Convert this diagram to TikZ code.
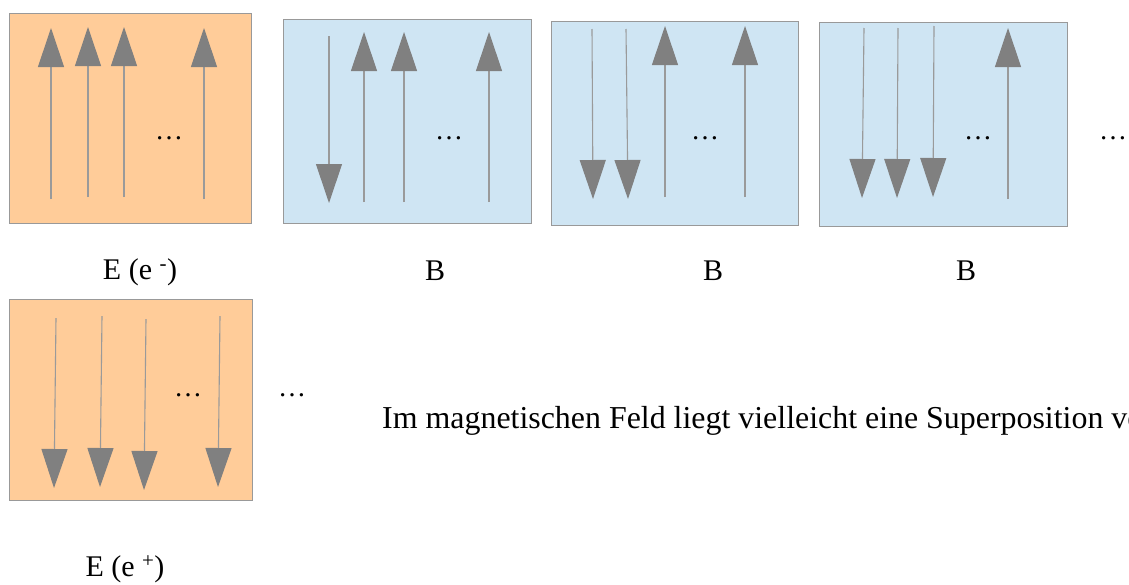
\documentclass[tikz,border=0pt]{standalone}
\usepackage{fontspec}
\setmainfont{Liberation Serif}
\usetikzlibrary{arrows.meta}
\definecolor{eorange}{HTML}{FFCC99}
\definecolor{bblue}{HTML}{CFE5F3}
\definecolor{frame}{HTML}{999999}
\definecolor{arr}{HTML}{808080}
\definecolor{shaft}{HTML}{9A9A9A}
\tikzset{
  ebox/.style={fill=eorange, draw=frame, line width=1pt},
  bbox/.style={fill=bblue, draw=frame, line width=1pt},
  spin/.style={draw=shaft, line width=1.1pt, -{Triangle[width=26pt,length=39pt,color=arr]}},
  lbl/.style={font=\fontsize{30}{36}\selectfont, inner sep=0pt},
  dots/.style={font=\fontsize{28}{34}\selectfont, inner sep=0pt, anchor=base}
}
\begin{document}
\begin{tikzpicture}[x=1pt,y=-1pt]
\path[use as bounding box, clip] (0,0) rectangle (1129,584);
\fill[white] (0,0) rectangle (1129,584);
% boxes
\draw[ebox] (9,13) rectangle (251,223);
\draw[bbox] (283,19) rectangle (531,223);
\draw[bbox] (551,21) rectangle (798,225);
\draw[bbox] (819,22) rectangle (1067,226);
\draw[ebox] (9,299) rectangle (252,500);
% box 1
\draw[spin] (51,199) -- (51,28);
\draw[spin] (88,197) -- (88,27);
\draw[spin] (124,197) -- (124,27);
\draw[spin] (204,199) -- (204,28);
% box 2
\draw[spin] (329,36) -- (329,203);
\draw[spin] (364,202) -- (364,32);
\draw[spin] (404,202) -- (404,32);
\draw[spin] (489,202) -- (489,32);
% box 3
\draw[spin] (592,29) -- (593,199);
\draw[spin] (626,29) -- (628,199);
\draw[spin] (665,197) -- (665,26);
\draw[spin] (745,197) -- (745,26);
% box 4
\draw[spin] (864,28) -- (862,198);
\draw[spin] (898,28) -- (897,198);
\draw[spin] (934,26) -- (933,197);
\draw[spin] (1008,199) -- (1008,28);
% box 5
\draw[spin] (56,318) -- (54,488);
\draw[spin] (102,316) -- (100,487);
\draw[spin] (146,319) -- (144,490);
\draw[spin] (220,316) -- (218,487);
% dots
\node[dots] (d1) at (169,139) {…};
\node[dots] (d2) at (449,139) {…};
\node[dots] (d3) at (705,139) {…};
\node[dots] (d4) at (978,139) {…};
\node[dots] (d5) at (1113,139) {…};
\node[dots] (d6) at (188,396) {…};
\node[dots] (d7) at (292,396) {…};
% labels
\node[lbl] (l1) at (140,272) {E (e \textsuperscript{-})};
\node[lbl] (l2) at (435,271) {B};
\node[lbl] (l3) at (713,271) {B};
\node[lbl] (l4) at (966,271) {B};
\node[lbl] (l5) at (125,569) {E (e \textsuperscript{+})};
\node[lbl, font=\fontsize{31.9}{38}\selectfont, anchor=west] (txt) at (382,421) {Im magnetischen Feld liegt vielleicht eine Superposition vo};
\end{tikzpicture}
\end{document}
